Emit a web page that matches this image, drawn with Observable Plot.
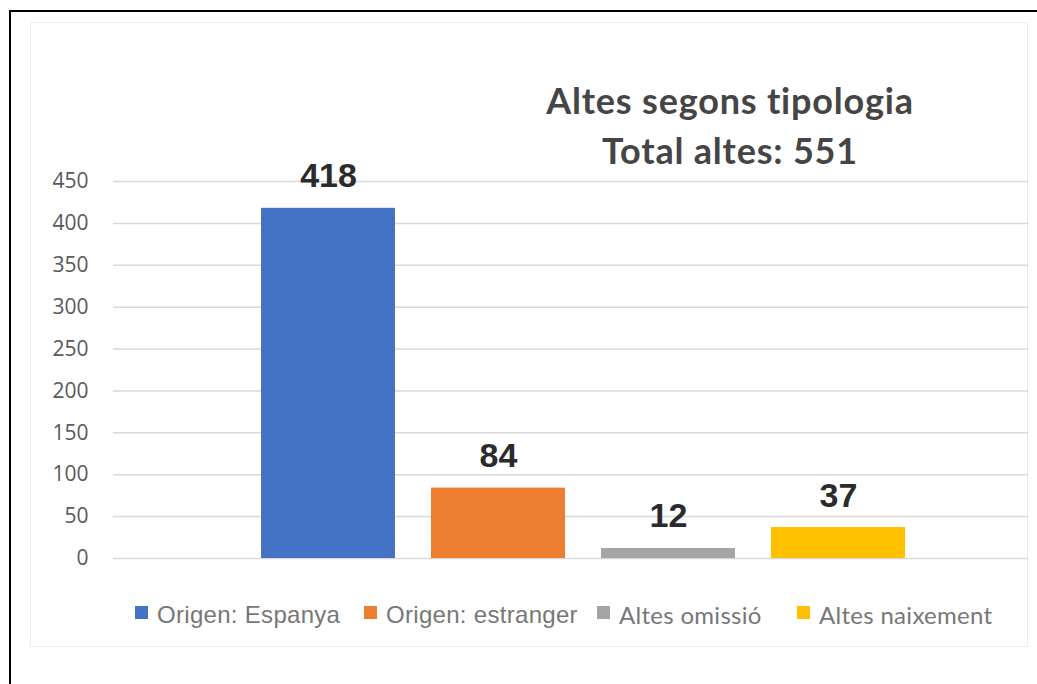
<!DOCTYPE html>
<html>
<head>
<meta charset="utf-8">
<script src="https://cdn.jsdelivr.net/npm/d3@7"></script>
<script src="https://cdn.jsdelivr.net/npm/@observablehq/plot@0.6"></script>
<style>
  html, body { margin: 0; padding: 0; background: #fff; }
  #wrap { position: relative; width: 1037px; height: 684px; overflow: hidden; background: #fff; }
  #frame { position: absolute; left: 9px; top: 10px; width: 1100px; height: 800px; border: 2px solid #000; box-sizing: border-box; }
  #card { position: absolute; left: 30px; top: 22px; width: 998px; height: 625px; border: 1.5px solid #ececec; box-sizing: border-box; background: #fff; }
  #chart { position: absolute; left: 0; top: 0; }
  .title { position: absolute; left: 730px; transform: translateX(-50%); white-space: nowrap;
           font-family: Lato, "Open Sans", sans-serif; font-weight: 700; font-size: 36px; letter-spacing: 0.8px; color: #454545; }
  .leg { position: absolute; top: 601px; font-size: 24px; letter-spacing: 0.3px; color: #777777; white-space: nowrap; line-height: 28px; }
  .sw { position: absolute; top: 606px; width: 13px; height: 13px; }
</style>
</head>
<body>
<div id="wrap">
  <div id="frame"></div>
  <div id="card"></div>
  <div id="chart"></div>
  <div class="title" style="top:78px">Altes segons tipologia</div>
  <div class="title" style="top:128px">Total altes: 551</div>
  <div id="legend"></div>
</div>
<script>
const categories = ["Origen: Espanya", "Origen: estranger", "Altes omissió", "Altes naixement"];
const values = [418, 84, 12, 37];
const colors = ["#4472C4", "#ED7D31", "#A5A5A5", "#FFC000"];
const yTicks = [0, 50, 100, 150, 200, 250, 300, 350, 400, 450];

const data = categories.map((c, i) => ({cat: c, value: values[i]}));

const chart = Plot.plot({
  width: 1037,
  height: 600,
  marginLeft: 113,
  marginRight: 9,
  marginTop: 181,
  marginBottom: 42,
  style: {fontFamily: "'Open Sans', sans-serif", fontSize: "21px", color: "#595959", background: "transparent"},
  x: {domain: categories, range: [242, 923], paddingInner: 0.214, paddingOuter: 0.107, axis: null},
  y: {domain: [0, 450], ticks: yTicks, tickSize: 0, tickPadding: 25, label: null},
  color: {domain: categories, range: colors},
  marks: [
    Plot.ruleY(yTicks, {stroke: "#d9d9d9", strokeWidth: 1.5}),
    Plot.barY(data, {x: "cat", y: "value", fill: "cat"}),
    Plot.text(data, {x: "cat", y: "value", text: d => String(d.value), lineAnchor: "bottom", dy: -21,
      fontSize: 34, fontWeight: "bold", fill: "#2b2b2b", fontFamily: "'Liberation Sans', Arial, sans-serif"})
  ]
});
document.getElementById("chart").appendChild(chart);

// legend
const legX = [135, 364, 597, 797];
const legFonts = ["'Liberation Sans', Arial", "'Liberation Sans', Arial", "Lato", "Lato"];
const leg = document.getElementById("legend");
categories.forEach((c, i) => {
  const sw = document.createElement("div");
  sw.className = "sw";
  sw.style.left = legX[i] + "px";
  sw.style.background = colors[i];
  leg.appendChild(sw);
  const t = document.createElement("div");
  t.className = "leg";
  t.style.left = (legX[i] + 22) + "px";
  t.style.fontFamily = legFonts[i] + ", sans-serif";
  t.textContent = c;
  leg.appendChild(t);
});
</script>
</body>
</html>
